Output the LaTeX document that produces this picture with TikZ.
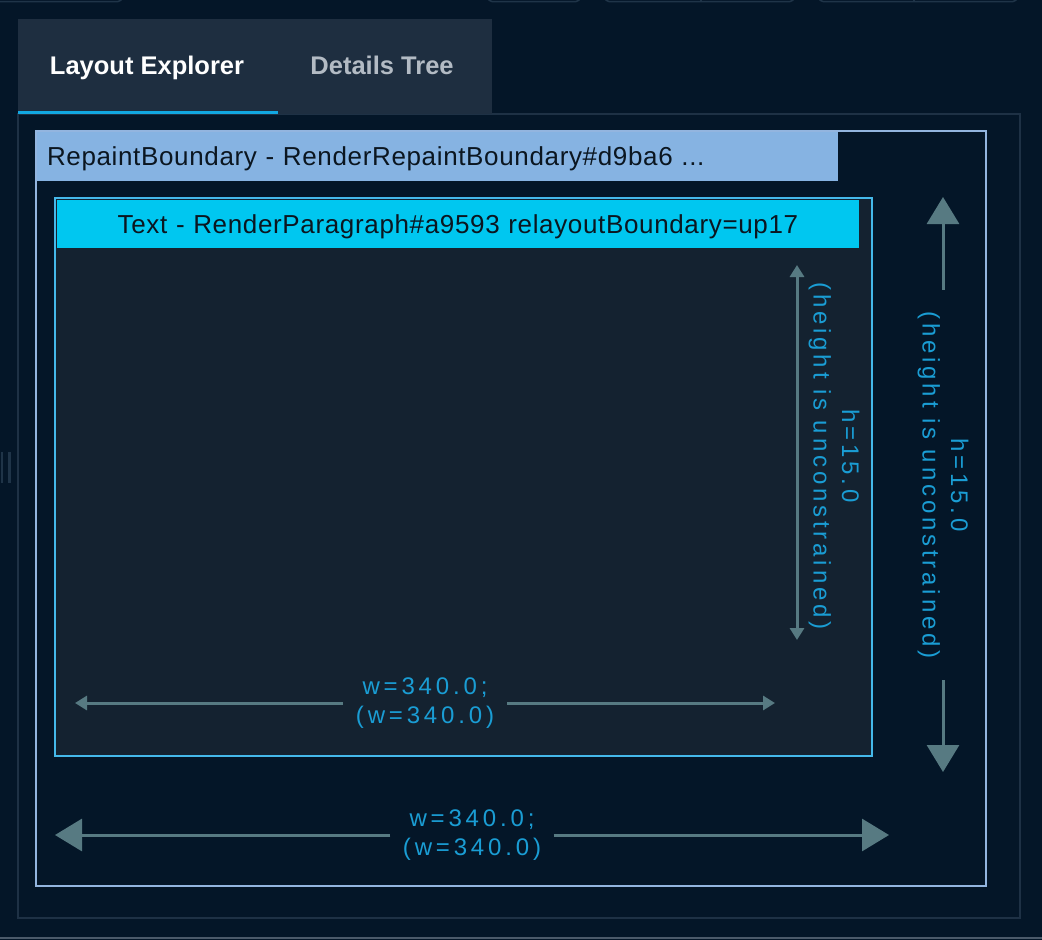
\documentclass[tikz,border=0pt]{standalone}
\usepackage{fontspec}
\setmainfont{Liberation Sans}
\newfontfamily\dimfont[LetterSpace=16]{Liberation Sans}
\newfontfamily\headfont[LetterSpace=2.5]{Liberation Sans}
\usepackage{tikz}
\usetikzlibrary{positioning}
\usetikzlibrary{arrows.meta}
\definecolor{pagebg}{HTML}{041628}
\definecolor{panelline}{HTML}{1E3145}
\definecolor{tabbg}{HTML}{1E2E40}
\definecolor{tabcyan}{HTML}{12A8E2}
\definecolor{tabgray}{HTML}{B3BBC4}
\definecolor{outerline}{HTML}{93B5DF}
\definecolor{outerhead}{HTML}{86B3E2}
\definecolor{innerline}{HTML}{45B9EA}
\definecolor{innerbg}{HTML}{142230}
\definecolor{innerhead}{HTML}{00C7F0}
\definecolor{headtext}{HTML}{0B1620}
\definecolor{dimgray}{HTML}{577A82}
\definecolor{dimtext}{HTML}{1A9DD4}
\definecolor{btnline}{HTML}{1F3448}

\begin{document}
\begin{tikzpicture}[x=1pt,y=-1pt,
   box/.style={anchor=north west,inner sep=0pt,outer sep=0pt},
   tabtext/.style={font=\bfseries\fontsize{25.5}{30}\selectfont,inner sep=0pt,text height=19pt,text depth=5pt},
   headtext/.style={font=\headfont\fontsize{26}{30}\selectfont,text=headtext,inner xsep=10pt,inner ysep=0pt,text depth=0pt},
   dimlabel/.style={font=\dimfont\fontsize{24}{28.5}\selectfont,text=dimtext,align=center,inner sep=0pt},
   dimline/.style={line width=3pt,draw=dimgray},
   bigtip/.style={-{Triangle[length=27pt,width=32pt]}},
   >={Triangle[length=12pt,width=14pt]}]
   \useasboundingbox (0,0) rectangle (1042,940);
   \clip (0,0) rectangle (1042,940);
   \fill[pagebg] (0,0) rectangle (1042,940);
   % toolbar buttons cut off at the top
   \draw[btnline,line width=1.5pt,rounded corners=4pt] (-10,-30) rectangle (122,1.5);
   \draw[btnline,line width=1.5pt,rounded corners=4pt] (488,-30) rectangle (580,1.5);
   \draw[btnline,line width=1.5pt,rounded corners=4pt] (605,-30) rectangle (794,1.5);
   \draw[btnline,line width=1.5pt] (701,-30) -- (701,1.5);
   \draw[btnline,line width=1.5pt,rounded corners=4pt] (819,-30) rectangle (1017,1.5);
   \draw[btnline,line width=1.5pt] (914,-30) -- (914,1.5);
   % drag handle
   \fill[btnline] (0.5,452) rectangle (3,483);
   \fill[btnline] (7.5,452) rectangle (10.5,483);
   \fill[panelline!80!white] (0,936.5) rectangle (1042,938.5);

   \node[box,draw=panelline,line width=1.5pt,minimum width=1002pt,minimum height=804pt] (panel) at (18,114) {};
   \node[box,fill=tabbg,minimum width=474pt,minimum height=95pt] (tab_bar) at (18,19) {};
   \node[box,fill=tabcyan,minimum width=260pt,minimum height=3pt] (tab_line) at (18,111) {};
   \node[tabtext,text=white] (tab_layout) at (147,67) {Layout Explorer};
   \node[tabtext,text=tabgray,right=66pt of tab_layout] (tab_details) {Details Tree};

   \node[box,draw=outerline,line width=1.5pt,minimum width=950pt,minimum height=755pt] (outer_box) at (36,131) {};
   \node[box,fill=outerhead,headtext,text width=781pt,align=left,minimum height=49pt] (outer_head) at (37,132)
      {RepaintBoundary - RenderRepaintBoundary\#d9ba6 ...};
   \node[box,draw=innerline,fill=innerbg,line width=2.5pt,minimum width=817pt,minimum height=558pt] (inner_box) at (55,198) {};
   \node[box,fill=innerhead,headtext,text width=782pt,align=center,minimum height=48pt] (inner_head) at (57,200)
      {Text - RenderParagraph\#a9593 relayoutBoundary=up17};

   % inner dimensions
   \coordinate (iv_top) at (797,265);
   \coordinate (iv_bot) at (797,640);
   \draw[dimline,<->] (iv_top) -- (iv_bot);
   \node[dimlabel,rotate=-90] (iv_label) at (834,456) {h=15.0\\(height is unconstrained)};
   \coordinate (ih_left) at (75,703);
   \coordinate (ih_right) at (775,703);
   \node[dimlabel,minimum width=164pt] (ih_label) at (425,703) {w=340.0;\\(w=340.0)};
   \draw[dimline,->] (ih_label) -- (ih_left);
   \draw[dimline,->] (ih_label) -- (ih_right);

   % outer dimensions
   \coordinate (ov_top) at (943,197);
   \coordinate (ov_bot) at (943,772);
   \node[dimlabel,rotate=-90,minimum width=390pt] (ov_label) at (943,485) {h=15.0\\(height is unconstrained)};
   \draw[dimline,bigtip] (ov_label) -- (ov_top);
   \draw[dimline,bigtip] (ov_label) -- (ov_bot);
   \coordinate (oh_left) at (55,835);
   \coordinate (oh_right) at (889,835);
   \node[dimlabel,minimum width=163pt] (oh_label) at (472,835) {w=340.0;\\(w=340.0)};
   \draw[dimline,bigtip] (oh_label) -- (oh_left);
   \draw[dimline,bigtip] (oh_label) -- (oh_right);
\end{tikzpicture}
\end{document}
